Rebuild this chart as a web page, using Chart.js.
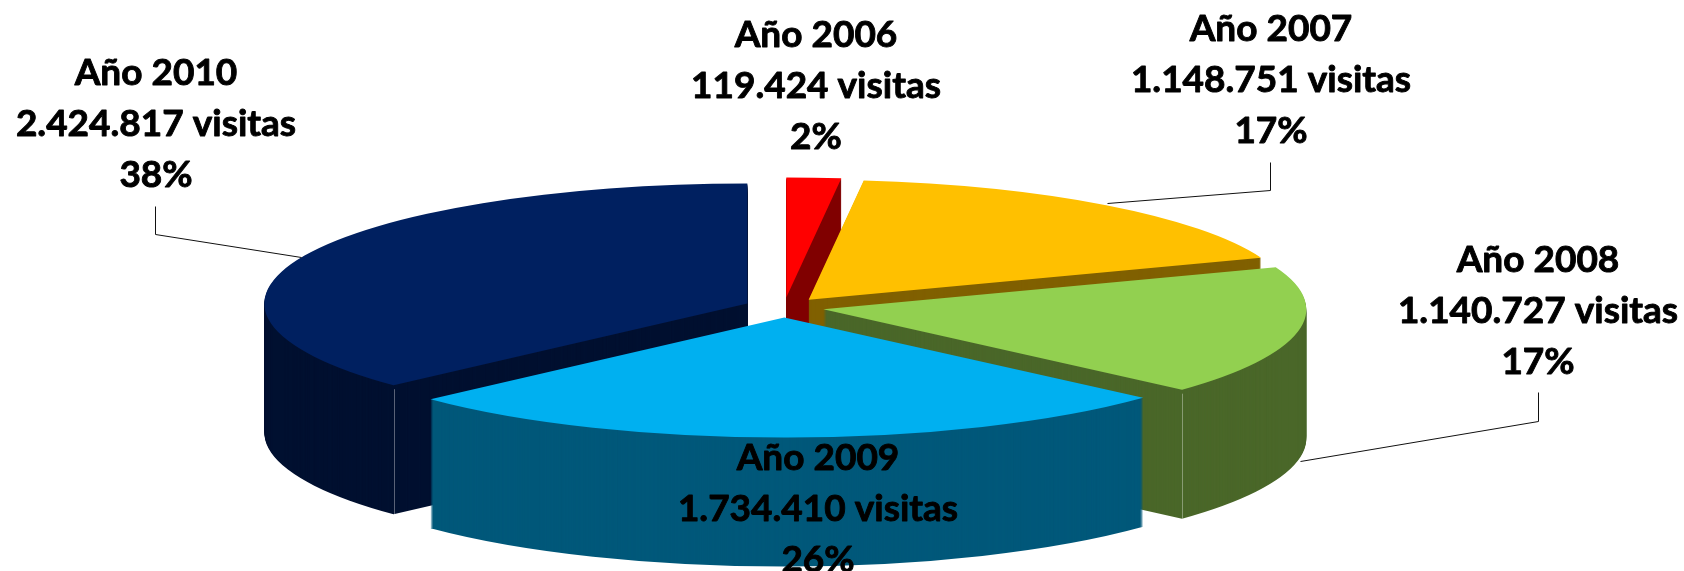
<!DOCTYPE html>
<html lang="es">
<head>
<meta charset="utf-8">
<style>html,body{margin:0;padding:0;background:#fff}canvas{display:block}</style>
<script src="https://cdn.jsdelivr.net/npm/chart.js@4/dist/chart.umd.js"></script>
</head>
<body>
<canvas id="c" width="1684" height="571"></canvas>
<script>
const categories = ["Año 2006", "Año 2007", "Año 2008", "Año 2009", "Año 2010"];
const visits = [119424, 1148751, 1140727, 1734410, 2424817];
const visitLabels = ["119.424 visitas", "1.148.751 visitas", "1.140.727 visitas", "1.734.410 visitas", "2.424.817 visitas"];
const percentLabels = ["2%", "17%", "17%", "26%", "38%"];
const topColors = ["#FF0000", "#FFC000", "#92D050", "#00B0F0", "#002060"];
const sideColors = ["#800000", "#806000", "#4A6729", "#00587A", "#001030"];

// Presentation of the tilted, exploded pie
const pie3d = { cx: 784, cy: 307.5, rx: 483, ry: 120, depth: 129, explode: 40, paintOrder: [0, 4, 1, 2, 3] };
const labelCenters = [[816, 47], [1271, 41], [1538, 272], [818, 470], [156, 85]];
const labelPitch = 51;
const leaders = [
  null,
  [[1270, 162], [1270, 190], [1107, 203]],
  [[1538, 392], [1538, 421], [1300, 461]],
  null,
  [[155, 206], [155, 234], [301, 257]]
];
const cornerLines = [{ slice: 2, edge: "endAngle" }, { slice: 4, edge: "startAngle" }];

const tiltPlugin = {
  id: "tilt",
  beforeDatasetsDraw(chart) {
    const ctx = chart.ctx;
    const arcs = chart.getDatasetMeta(0).data;
    const p = pie3d;
    pie3d.paintOrder.forEach(i => {
      const el = arcs[i];
      const sx = p.rx / el.outerRadius, sy = p.ry / el.outerRadius;
      const mid = (el.startAngle + el.endAngle) / 2;
      const ex = p.cx + Math.cos(mid) * p.explode;
      const ey = p.cy + Math.sin(mid) * p.explode * (p.ry / p.rx);
      const place = d => {
        ctx.translate(ex, ey + d);
        ctx.scale(sx, sy);
        ctx.translate(-el.x, -el.y);
      };
      const side = Object.create(el);
      side.options = Object.assign({}, el.options, { backgroundColor: sideColors[i], borderWidth: 0 });
      for (let d = p.depth; d >= 1; d--) {
        ctx.save();
        place(d);
        side.draw(ctx);
        ctx.restore();
      }
      cornerLines.filter(c => c.slice === i).forEach(c => {
        const a = el[c.edge];
        const x = ex + Math.cos(a) * p.rx, y = ey + Math.sin(a) * p.ry;
        ctx.save();
        ctx.strokeStyle = "rgba(255,255,255,0.35)";
        ctx.lineWidth = 1;
        ctx.beginPath();
        ctx.moveTo(Math.round(x) + 0.5, y + 4);
        ctx.lineTo(Math.round(x) + 0.5, y + p.depth);
        ctx.stroke();
        ctx.restore();
      });
      ctx.save();
      place(0);
      el.draw(ctx);
      ctx.restore();
    });
    return false;
  },
  afterDraw(chart) {
    const ctx = chart.ctx;
    ctx.save();
    ctx.strokeStyle = "#111";
    ctx.lineWidth = 1;
    leaders.forEach(l => {
      if (!l) return;
      ctx.beginPath();
      l.forEach((pt, n) => n ? ctx.lineTo(pt[0] + 0.5, pt[1] + 0.5) : ctx.moveTo(pt[0] + 0.5, pt[1] + 0.5));
      ctx.stroke();
    });
    ctx.fillStyle = "#000";
    ctx.strokeStyle = "#000";
    ctx.lineWidth = 0.9;
    ctx.lineJoin = "round";
    ctx.font = "bold 37px Lato, Carlito, sans-serif";
    ctx.textAlign = "center";
    ctx.textBaseline = "alphabetic";
    categories.forEach((c, i) => {
      const [x, y] = labelCenters[i];
      [c, visitLabels[i], percentLabels[i]].forEach((line, n) => {
        ctx.fillText(line, x, y + n * labelPitch);
        ctx.strokeText(line, x, y + n * labelPitch);
      });
    });
    ctx.restore();
  }
};

new Chart(document.getElementById("c"), {
  type: "pie",
  data: {
    labels: categories,
    datasets: [{ data: visits, backgroundColor: topColors, borderWidth: 0 }]
  },
  options: {
    responsive: false,
    animation: false,
    plugins: { legend: { display: false }, tooltip: { enabled: false } }
  },
  plugins: [tiltPlugin]
});
</script>
</body>
</html>
